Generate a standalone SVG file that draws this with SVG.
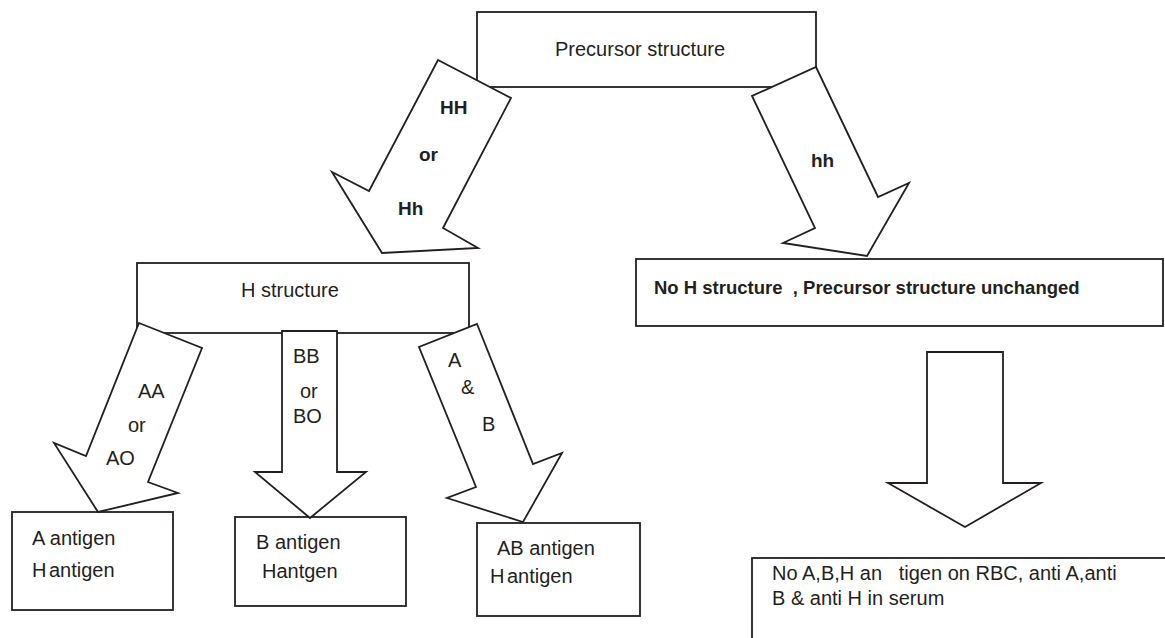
<svg xmlns="http://www.w3.org/2000/svg" width="1165" height="638" viewBox="0 0 1165 638">
<style>
.box{fill:#fff;stroke:#231f20;stroke-width:1.8}
.arr{fill:#fff;stroke:#231f20;stroke-width:1.8;stroke-linejoin:miter}
text{font-family:"Liberation Sans",Arial,sans-serif;font-size:20px;fill:#231f20;white-space:pre}
.b{font-weight:bold;font-size:19px}
.bt{font-weight:bold;font-size:18.5px}
</style>
<rect width="1165" height="638" fill="#fff"/>
<g id="precursor">
<rect class="box" x="477" y="12" width="339" height="75"/>
<text x="555" y="56">Precursor structure</text>
</g>
<g id="hstructure">
<rect class="box" x="137" y="263" width="332" height="70"/>
<text x="241" y="297">H structure</text>
</g>
<g id="noh">
<rect class="box" x="636" y="259" width="527" height="67"/>
<text class="bt" x="654" y="294" xml:space="preserve">No H structure  , Precursor structure unchanged</text>
</g>
<g id="aantigen">
<rect class="box" x="12" y="512" width="161" height="98"/>
<text x="32" y="545">A antigen</text>
<text x="32" y="577" word-spacing="-3">H antigen</text>
</g>
<g id="bantigen">
<rect class="box" x="235" y="517" width="171" height="89"/>
<text x="256" y="549">B antigen</text>
<text x="262" y="578">Hantgen</text>
</g>
<g id="abantigen">
<rect class="box" x="477" y="523" width="163" height="93"/>
<text x="497" y="555">AB antigen</text>
<text x="490" y="583" word-spacing="-3">H antigen</text>
</g>
<g id="noabh">
<rect class="box" x="752" y="558" width="420" height="90"/>
<text x="772" y="580" xml:space="preserve">No A,B,H an   tigen on RBC, anti A,anti</text>
<text x="772" y="605">B &amp; anti H in serum</text>
</g>
<g id="connectors">
<g id="arrow-HH">
<polygon class="arr" points="438,60 511,98 443,228 478,248 382,253 332,172 369,191"/>
<text class="b" x="440" y="114">HH</text>
<text class="b" x="419" y="161">or</text>
<text class="b" x="398" y="215">Hh</text>
</g>
<g id="arrow-hh">
<polygon class="arr" points="816,67 878,197 909,183 867,256 783,243 815,228 752,96"/>
<text class="b" x="811" y="167">hh</text>
</g>
<g id="arrow-AA">
<polygon class="arr" points="139,323 202,348 148,482 178,493 98,512 54,443 86,456"/>
<text x="138" y="398">AA</text>
<text x="128" y="432">or</text>
<text x="106" y="465">AO</text>
</g>
<g id="arrow-BB">
<polygon class="arr" points="282,331 337,331 337,472 366,472 310,518 255,472 282,472"/>
<text x="293" y="363">BB</text>
<text x="300" y="398">or</text>
<text x="293" y="423">BO</text>
</g>
<g id="arrow-AB">
<polygon class="arr" points="477,324 533,464 562,453 523,522 447,498 476,487 419,347"/>
<text x="448" y="367">A</text>
<text x="461" y="394">&amp;</text>
<text x="482" y="431">B</text>
</g>
<g id="arrow-down">
<polygon class="arr" points="927,352 1003,352 1003,483 1041,483 965,527 888,483 927,483"/>
</g>
</g>
</svg>
